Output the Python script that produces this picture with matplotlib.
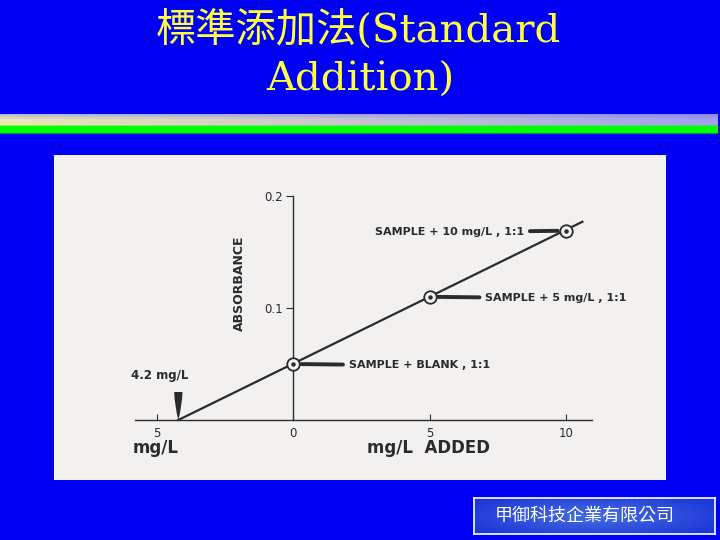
import numpy as np
import matplotlib.pyplot as plt

# standard addition data
added = [0, 5, 10]
absorb = [0.050, 0.110, 0.169]
fit_x = [-4.2, 10.6]
fit_y = [0.0, 0.177]
point_labels = ["SAMPLE + BLANK , 1:1", "SAMPLE + 5 mg/L , 1:1", "SAMPLE + 10 mg/L , 1:1"]
xticks = [-5, 0, 5, 10]
xtick_labels = ["5", "0", "5", "10"]
yticks = [0.1, 0.2]
ytick_labels = ["0.1", "0.2"]

W, H = 720, 540
BLUE = "#0000f5"
INK = "#2b2b2b"

fig = plt.figure(figsize=(7.2, 5.4), dpi=100)
fig.patch.set_facecolor(BLUE)

def px_axes(x0, y0, x1, y1):
    # pixel box (top-left origin) -> figure axes
    return fig.add_axes([x0 / W, 1 - y1 / H, (x1 - x0) / W, (y1 - y0) / H])

# title
title_font = ["DejaVu Serif", "Noto Sans CJK TC"]
fig.text(358 / W, 1 - 30 / H, "標準添加法(Standard", color="#ffff40", fontsize=29,
         family=title_font, ha="center", va="center")
fig.text(360 / W, 1 - 80 / H, "Addition)", color="#ffff40", fontsize=29,
         family=title_font, ha="center", va="center")

# gradient stripe
bar = px_axes(0, 114, 718, 134)
n = 200
rows = 20
img = np.zeros((rows, n, 3))
hx = np.linspace(0, 1, n)
for r in range(rows):
    if r < 12:
        t = min(r / 6.0, 1.0)
        left = np.array([175, 175, 225]) * (1 - t) + np.array([238, 232, 175]) * t
        right = np.array([135, 135, 235]) * (1 - t) + np.array([160, 160, 240]) * t
        img[r] = (left[None, :] * (1 - hx[:, None]) + right[None, :] * hx[:, None]) / 255
    elif r < 19:
        img[r] = np.array([0, 255, 0]) / 255
    else:
        img[r] = np.array([0, 140, 90]) / 255
bar.imshow(img, aspect="auto", interpolation="bilinear")
bar.axis("off")

# chart panel
ax = px_axes(54, 155, 666, 480)
ax.set_facecolor("#f3f1f0")
ax.set_xlim((54 - 293) / 27.3, (666 - 293) / 27.3)
ax.set_ylim((420 - 480) / 1120, (420 - 155) / 1120)

for s in ["top", "right"]:
    ax.spines[s].set_visible(False)
ax.spines["left"].set_position(("data", 0))
ax.spines["left"].set_bounds(0, 0.2)
ax.spines["bottom"].set_position(("data", 0))
ax.spines["bottom"].set_bounds(-5.8, 10.95)
for s in ["left", "bottom"]:
    ax.spines[s].set_color(INK)
    ax.spines[s].set_linewidth(1.0)

ax.set_xticks(xticks, xtick_labels)
ax.set_yticks(yticks, ytick_labels)
ax.tick_params(axis="x", direction="in", length=4, color=INK, labelcolor=INK,
               labelsize=8.5, pad=5)
ax.tick_params(axis="y", direction="out", length=5, color=INK, labelcolor=INK,
               labelsize=8.5, pad=2)

ax.plot(fit_x, fit_y, color=INK, lw=1.6, zorder=2)
ax.plot(added, absorb, "o", ms=9, mfc="#f3f1f0", mec=INK, mew=1.3, zorder=3)
ax.plot(added, absorb, "o", ms=2.2, color=INK, zorder=4)

label_offsets = [(40, -1), (40, -1), (-30, -1)]
for x, y, lab, off in zip(added, absorb, point_labels, label_offsets):
    ax.annotate(lab, (x, y), xytext=off, textcoords="offset points",
                ha="left" if off[0] > 0 else "right", va="center",
                fontsize=8, color=INK, fontweight="semibold", family="DejaVu Sans",
                arrowprops=dict(arrowstyle="-", color=INK, lw=2.8,
                                shrinkA=2, shrinkB=6))

ax.annotate("4.2 mg/L", (fit_x[0], 0), xytext=(-34, 27), textcoords="offset points",
            ha="left", va="bottom", fontsize=8.5, color=INK, fontweight="semibold")
ax.annotate("", (fit_x[0], 0), xytext=(fit_x[0], 0.025),
            arrowprops=dict(arrowstyle="wedge,tail_width=0.6,shrink_factor=0.7",
                            color=INK, lw=0, shrinkA=0, shrinkB=0))

ax.set_ylabel("ABSORBANCE", fontsize=9, color=INK, fontweight="bold")
ax.yaxis.set_label_coords((246 - 54) / 612, 1 - (283 - 155) / 325)
ax.text((156 - 54) / 612, 1 - (448 - 155) / 325, "mg/L", transform=ax.transAxes,
        fontsize=12, color=INK, ha="center", va="center", fontweight="semibold")
ax.text((428 - 54) / 612, 1 - (448 - 155) / 325, "mg/L  ADDED", transform=ax.transAxes,
        fontsize=12, color=INK, ha="center", va="center", fontweight="semibold")

# company box
box = px_axes(474, 498, 715, 534)
gx = np.linspace(-1, 1, 120)
gy = np.linspace(-1, 1, 20)
r = np.sqrt(gx[None, :] ** 2 * 0.6 + gy[:, None] ** 2 * 0.4)
c0 = np.array([70, 110, 225]) / 255
c1 = np.array([25, 50, 215]) / 255
grad = c0 * (1 - r[..., None]) + c1 * r[..., None]
box.imshow(np.clip(grad, 0, 1), aspect="auto", interpolation="bilinear")
box.set_xticks([])
box.set_yticks([])
for s in box.spines.values():
    s.set_color("white")
    s.set_linewidth(1.2)
fig.text(585 / W, 1 - 516 / H, "甲御科技企業有限公司", color="white", fontsize=13,
         family=["Noto Sans CJK TC", "DejaVu Sans"], ha="center", va="center")

fig.savefig("out.png", dpi=100, facecolor=BLUE)
